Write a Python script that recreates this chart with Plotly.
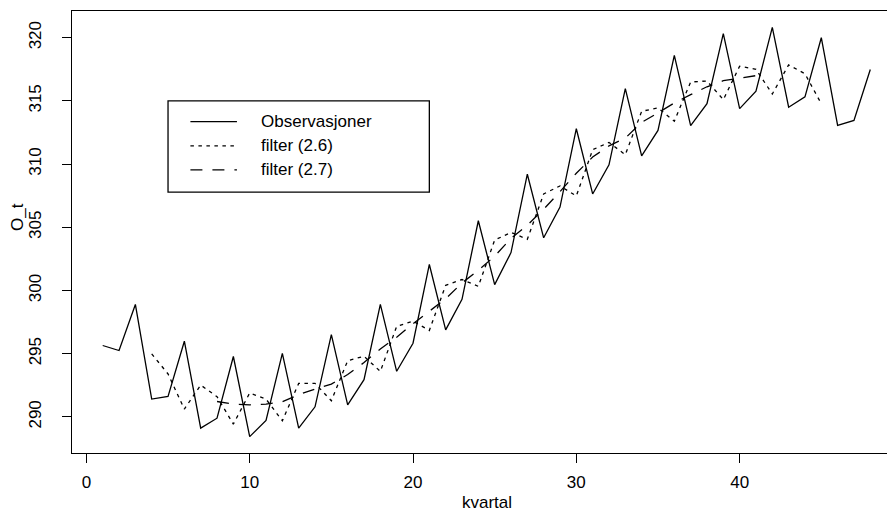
import plotly.graph_objects as go

# ---------------- data ----------------
kvartal = list(range(1, 49))
observasjoner = [
    295.65, 295.25, 298.90, 291.41, 291.62, 295.99, 289.11, 289.90, 294.78, 288.44,
    289.72, 295.02, 289.11, 290.80, 296.51, 290.96, 292.95, 298.90, 293.61, 295.83,
    302.06, 296.89, 299.30, 305.52, 300.47, 303.00, 309.20, 304.17, 306.60, 312.80,
    307.64, 309.94, 315.98, 310.66, 312.67, 318.60, 313.04, 314.78, 320.33, 314.39,
    315.77, 320.82, 314.50, 315.32, 320.00, 313.07, 313.46, 317.49,
]

filter26_kvartal = list(range(4, 46))
filter26 = [
    294.99, 293.40, 290.62, 292.52, 291.60, 289.43, 291.89, 291.41, 289.69, 292.65,
    292.65, 291.28, 294.45, 294.80, 293.60, 297.16, 297.58, 296.84, 300.41, 300.87,
    300.33, 303.99, 304.60, 304.05, 307.64, 308.28, 307.48, 311.14, 311.72, 310.74,
    314.18, 314.45, 313.40, 316.50, 316.58, 315.10, 317.75, 317.50, 315.55, 317.85,
    317.15, 314.78,
]

filter27_kvartal = list(range(8, 42))
filter27 = [
    291.22, 291.01, 290.96, 291.01, 291.20, 291.76, 292.20, 292.60, 293.35, 294.30,
    295.38, 296.31, 297.37, 298.35, 299.35, 300.60, 301.60, 302.72, 304.12, 305.17,
    306.43, 307.82, 309.28, 310.56, 311.45, 312.06, 313.30, 314.05, 314.84, 315.50,
    316.12, 316.60, 316.80, 317.00,
]

x_ticks = [0, 10, 20, 30, 40]
y_ticks = [290, 295, 300, 305, 310, 315, 320]
series_names = ["Observasjoner", "filter (2.6)", "filter (2.7)"]
x_title = "kvartal"
y_title = "O_t"

# ---------------- styles ----------------
FONT = dict(family="Liberation Sans, Arial, Helvetica, sans-serif", size=17, color="black")
LW = 1.3
DASHES = ["solid", "3.5px,4.5px", "12px,10px"]

W, H = 887, 516
ML, MR, MT, MB = 72, 0, 11, 63

# R-style axis limits (4% extension); the picture is cropped on the right
xlo_r = min(kvartal) - 0.04 * (max(kvartal) - min(kvartal))
xhi_r = max(kvartal) + 0.04 * (max(kvartal) - min(kvartal))
full_px = 829.0
x_visible_hi = xlo_r + (xhi_r - xlo_r) * (W - ML - MR) / full_px
ylo = min(observasjoner) - 0.04 * (max(observasjoner) - min(observasjoner))
yhi = max(observasjoner) + 0.04 * (max(observasjoner) - min(observasjoner))

fig = go.Figure()
fig.add_trace(go.Scatter(x=kvartal, y=observasjoner, mode="lines", name=series_names[0],
                         line=dict(color="black", width=LW, dash=DASHES[0])))
fig.add_trace(go.Scatter(x=filter26_kvartal, y=filter26, mode="lines", name=series_names[1],
                         line=dict(color="black", width=LW, dash=DASHES[1])))
fig.add_trace(go.Scatter(x=filter27_kvartal, y=filter27, mode="lines", name=series_names[2],
                         line=dict(color="black", width=LW, dash=DASHES[2])))

# ---------------- legend drawn like R's legend(5, 315, ...) ----------------
leg_x0, leg_x1 = 5.0, 21.0
leg_y1, leg_y0 = 315.0, 307.78
seg_x0, seg_x1 = 6.37, 9.22
txt_x = 10.57
row_y = [313.36, 311.45, 309.55]

shapes = [dict(type="rect", xref="x", yref="y", x0=leg_x0, x1=leg_x1, y0=leg_y0, y1=leg_y1,
               line=dict(color="black", width=LW), fillcolor="white", layer="below")]
annotations = []
for name, dash, ry in zip(series_names, DASHES, row_y):
    shapes.append(dict(type="line", xref="x", yref="y", x0=seg_x0, x1=seg_x1, y0=ry, y1=ry,
                       line=dict(color="black", width=LW, dash=dash)))
    annotations.append(dict(xref="x", yref="y", x=txt_x, y=ry, text=name, showarrow=False,
                            xanchor="left", yanchor="middle", font=FONT))

# axis titles
annotations.append(dict(xref="x", yref="paper", x=(xlo_r + xhi_r) / 2, y=1 - (502 - MT) / (H - MT - MB),
                        text=x_title, showarrow=False, xanchor="center", yanchor="middle", font=FONT))
annotations.append(dict(xref="paper", yref="paper", x=(17 - ML) / (W - ML - MR), y=1 - (217 - MT) / (H - MT - MB),
                        text=y_title, showarrow=False, textangle=-90, xanchor="center", yanchor="middle", font=FONT))

fig.update_layout(
    width=W, height=H,
    margin=dict(l=ML, r=MR, t=MT, b=MB, pad=0),
    paper_bgcolor="white", plot_bgcolor="white",
    showlegend=False,
    font=FONT,
    shapes=shapes,
    annotations=annotations,
)
fig.update_xaxes(range=[xlo_r, x_visible_hi], tickvals=x_ticks, ticks="outside", ticklen=9,
                 tickwidth=LW, tickcolor="black", showline=True, linecolor="black", linewidth=LW,
                 mirror=True, showgrid=False, zeroline=False, tickfont=FONT, ticklabelstandoff=4)
fig.update_yaxes(range=[ylo, yhi], tickvals=y_ticks, ticks="outside", ticklen=9,
                 tickwidth=LW, tickcolor="black", showline=True, linecolor="black", linewidth=LW,
                 mirror=False, showgrid=False, zeroline=False, tickfont=FONT, tickangle=-90,
                 ticklabelstandoff=14)

fig.write_html("out.html")
